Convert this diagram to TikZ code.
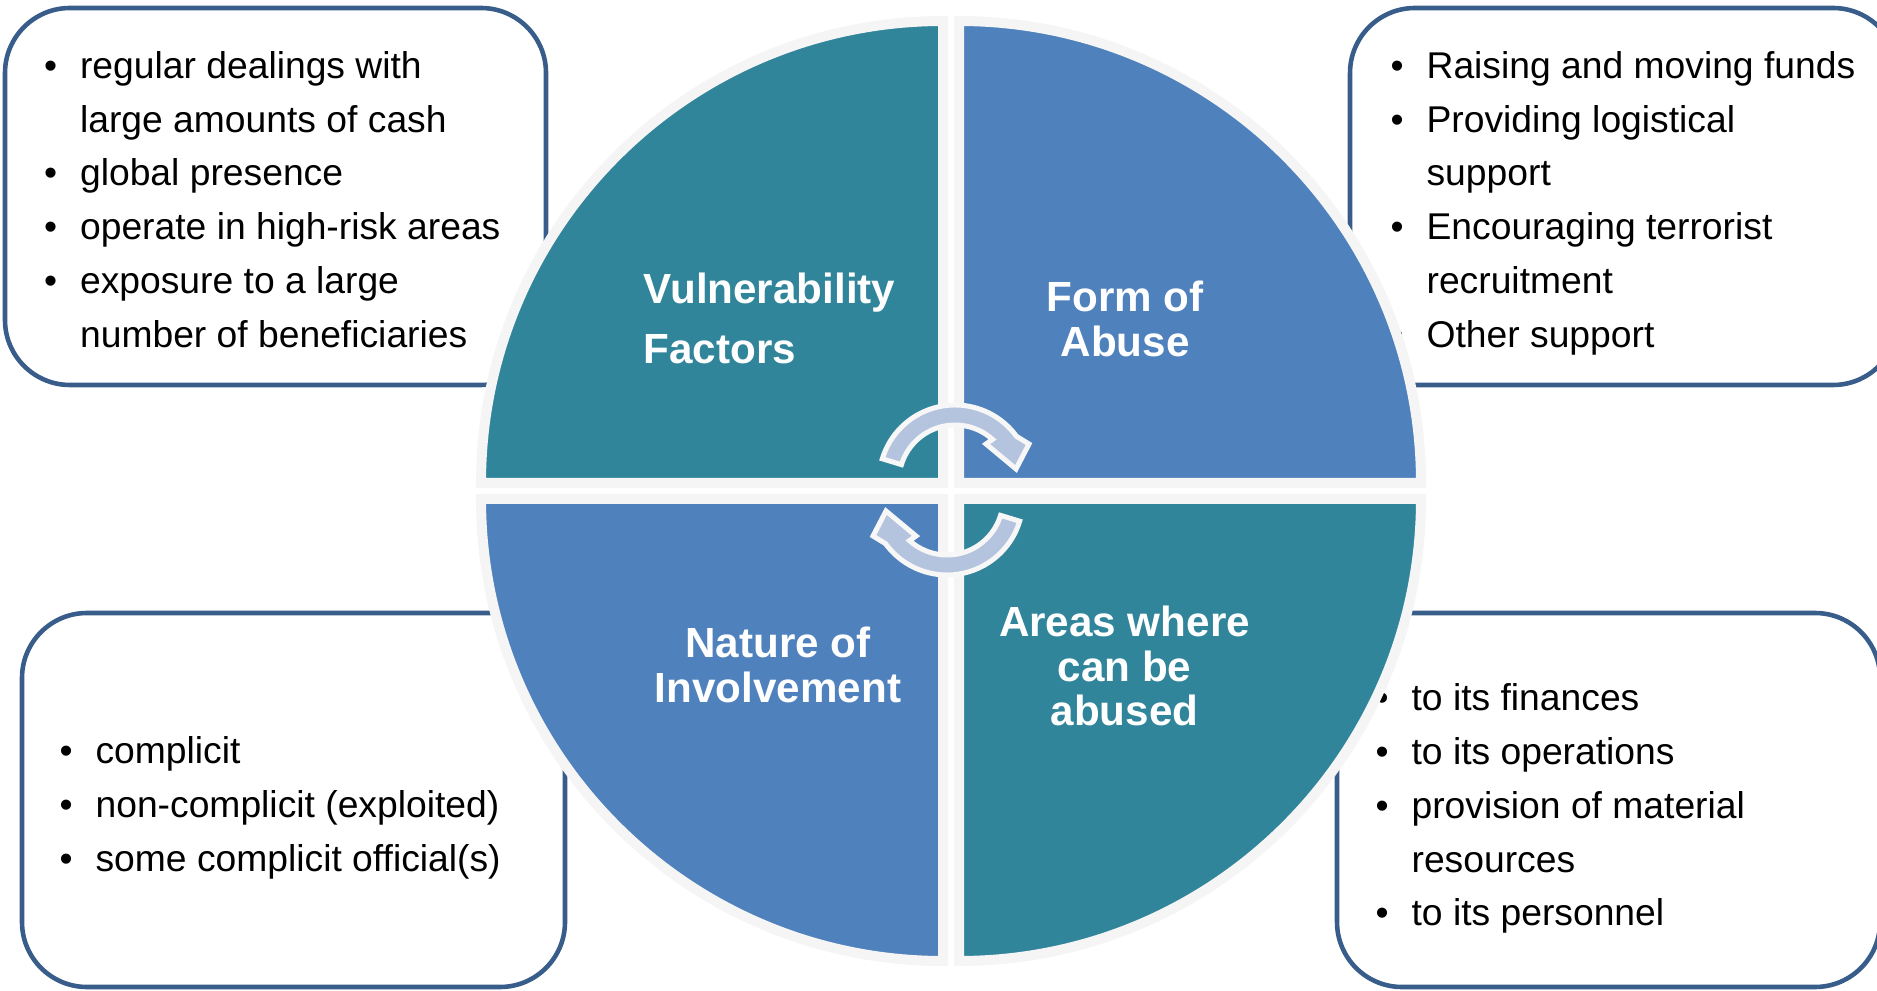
\documentclass[tikz,border=0pt]{standalone}
\usepackage{fontspec}
\setmainfont{Liberation Sans}
\definecolor{boxline}{RGB}{56,93,138}
\definecolor{quadteal}{RGB}{49,133,155}
\definecolor{quadblue}{RGB}{79,129,189}
\definecolor{arrowfill}{RGB}{181,196,222}
\begin{document}
\begin{tikzpicture}
	\tikzstyle{casebox}=[draw=boxline, line width=1.3pt, fill=white, rounded corners=0.65cm]
	\tikzstyle{liste}=[anchor=west, inner sep=0pt, font=\fontsize{10.6}{15.3}\selectfont]
	\tikzstyle{quart}=[draw=white!96!black, line width=0.1cm]
	\tikzstyle{titre}=[text=white, inner sep=0pt, font=\fontsize{12}{12.6}\selectfont\bfseries]
	\tikzstyle{fleche}=[fill=arrowfill, draw=white!97!black, line width=0.05cm]
	\useasboundingbox (0,0) rectangle (18.77,9.90);
	% boxes
	\draw[casebox] (0.05,6.05) rectangle (5.46,9.82); % top left
	\draw[casebox] (13.50,6.05) rectangle (18.98,9.82); % top right
	\draw[casebox] (0.22,0.03) rectangle (5.65,3.77); % bottom left
	\draw[casebox] (13.37,0.03) rectangle (18.80,3.77); % bottom right
	\node[liste] (vfl) at (0.435,7.88) {\begin{tabular}{@{}l@{\hspace{6.5pt}}l@{}}
		\textbullet & regular dealings with\\
		& large amounts of cash\\
		\textbullet & global presence\\
		\textbullet & operate in high-risk areas\\
		\textbullet & exposure to a large\\
		& number of beneficiaries
	\end{tabular}};
	\node[liste] (fal) at (13.90,7.88) {\begin{tabular}{@{}l@{\hspace{6.5pt}}l@{}}
		\textbullet & Raising and moving funds\\
		\textbullet & Providing logistical\\
		& support\\
		\textbullet & Encouraging terrorist\\
		& recruitment\\
		\textbullet & Other support
	\end{tabular}};
	\node[liste] (nil) at (0.59,1.835) {\begin{tabular}{@{}l@{\hspace{6.5pt}}l@{}}
		\textbullet & complicit\\
		\textbullet & non-complicit (exploited)\\
		\textbullet & some complicit official(s)
	\end{tabular}};
	\node[liste] (awl) at (13.75,1.825) {\begin{tabular}{@{}l@{\hspace{6.5pt}}l@{}}
		\textbullet & to its finances\\
		\textbullet & to its operations\\
		\textbullet & provision of material\\
		& resources\\
		\textbullet & to its personnel
	\end{tabular}};
	% quarters
	\foreach \ang/\col/\px/\py in {90/quadteal/9.43/5.07, 0/quadblue/9.59/5.07, 180/quadblue/9.43/4.91, 270/quadteal/9.59/4.91}
		\filldraw[quart, fill=\col] (\px,\py) -- ++(\ang:4.62) arc[start angle=\ang, delta angle=90, radius=4.62] -- cycle;
	\node[titre, align=left, anchor=west, font=\fontsize{12}{17.1}\selectfont\bfseries] (vf) at (6.43,6.72) {Vulnerability\\Factors};
	\node[titre, align=center] (fa) at (11.25,6.71) {Form of\\Abuse};
	\node[titre, align=center] (ni) at (7.78,3.25) {Nature of\\Involvement};
	\node[titre, align=center] (aw) at (11.245,3.24) {Areas where\\can be\\abused};
	% round arrows
	\foreach \cx/\cy/\rot in {9.55/5.09/0, 9.47/4.91/180}{
		\begin{scope}[shift={(\cx,\cy)}, rotate=\rot]
			\filldraw[fleche] (163:0.76) arc[start angle=163, end angle=36, radius=0.76] -- (0.74,0.37) -- (0.61,0.12)
				-- (0.31,0.37) -- (48:0.56) arc[start angle=48, end angle=163, radius=0.56] -- cycle;
		\end{scope}
	}
\end{tikzpicture}
\end{document}
